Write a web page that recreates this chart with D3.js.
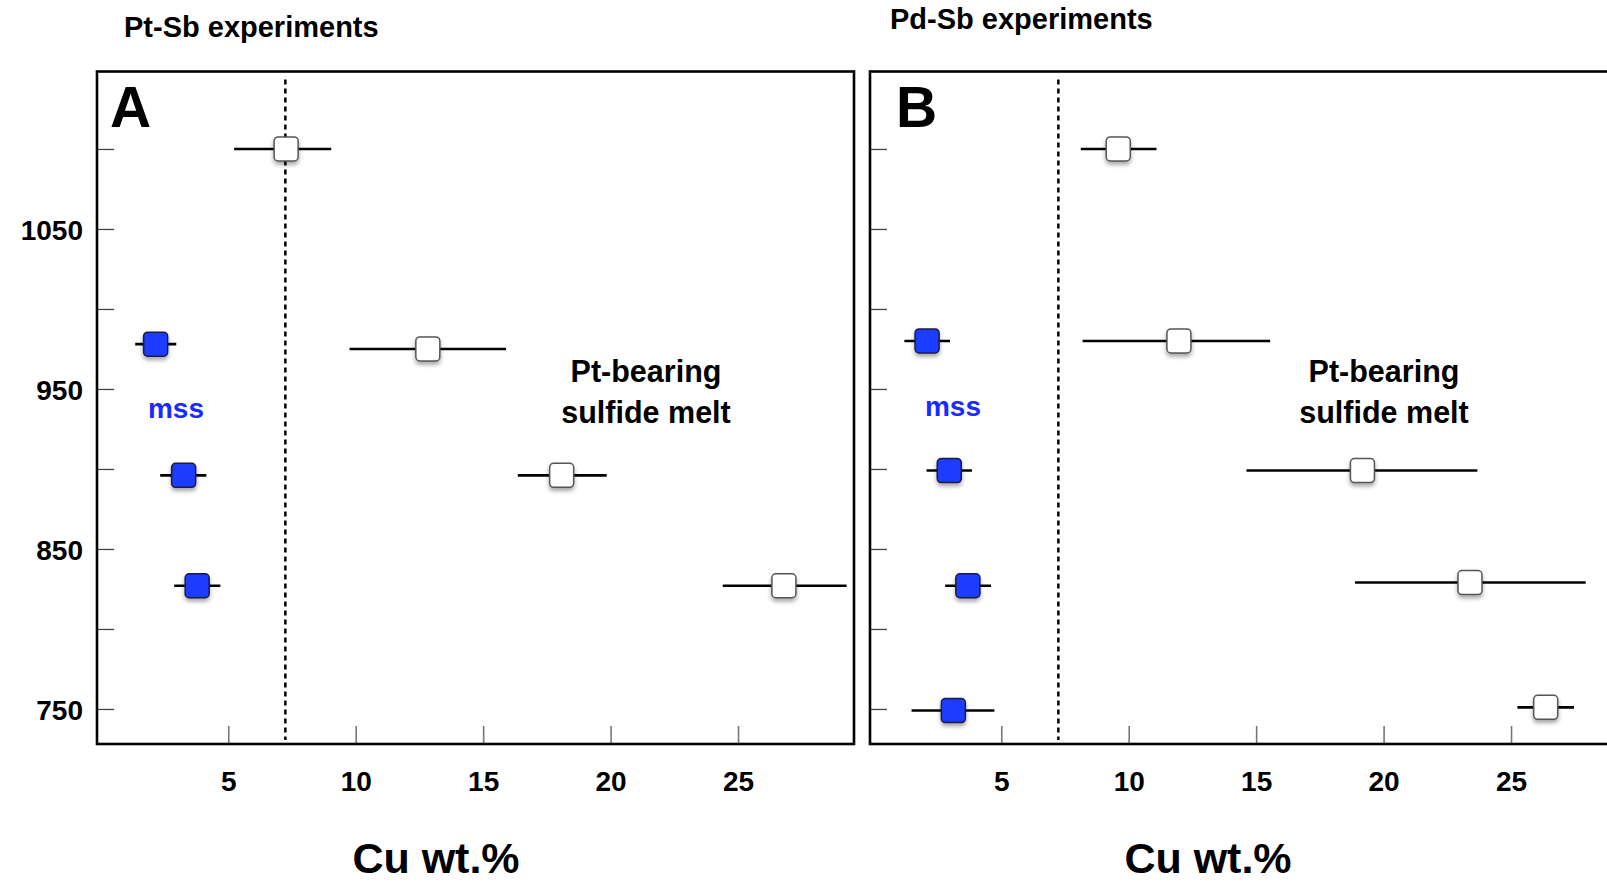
<!DOCTYPE html>
<html>
<head>
<meta charset="utf-8">
<script src="https://d3js.org/d3.v7.min.js"></script>
<style>
  body { margin: 0; background: #fff; }
  text { font-family: "Liberation Sans", Arial, Helvetica, sans-serif; }
</style>
</head>
<body>
<div id="chart"></div>
<script>
var width = 1607;
var height = 884;

// temperature axis (deg C)
var tempTicks = [750, 800, 850, 900, 950, 1000, 1050, 1100];
var tempLabels = [750, 850, 950, 1050];
// Cu axis (wt.%)
var cuTicks = [5, 10, 15, 20, 25];
var boundaryCu = 7.24;

// Pt-Sb experiments
var ptSbMelt = [
  { temp: 1100, cu: 7.27, lo: 5.23, hi: 9.04 },
  { temp: 975, cu: 12.83, lo: 9.76, hi: 15.9 },
  { temp: 896, cu: 18.08, lo: 16.36, hi: 19.85 },
  { temp: 827, cu: 26.8, lo: 24.4, hi: 29.26 }
];
var ptSbMss = [
  { temp: 978, cu: 2.15, lo: 1.35, hi: 2.96 },
  { temp: 896, cu: 3.25, lo: 2.33, hi: 4.14 },
  { temp: 827, cu: 3.78, lo: 2.88, hi: 4.69 }
];

// Pd-Sb experiments
var pdSbMelt = [
  { temp: 1100, cu: 9.59, lo: 8.12, hi: 11.09 },
  { temp: 980, cu: 11.97, lo: 8.19, hi: 15.55 },
  { temp: 899, cu: 19.17, lo: 14.62, hi: 23.68 },
  { temp: 829, cu: 23.39, lo: 18.88, hi: 27.93 },
  { temp: 751, cu: 26.36, lo: 25.25, hi: 27.47 }
];
var pdSbMss = [
  { temp: 980, cu: 2.09, lo: 1.2, hi: 2.99 },
  { temp: 899, cu: 2.96, lo: 2.07, hi: 3.85 },
  { temp: 827, cu: 3.69, lo: 2.8, hi: 4.6 },
  { temp: 749, cu: 3.12, lo: 1.48, hi: 4.73 }
];

var panels = [
  { letter: "A", letterX: 110, title: "Pt-Sb experiments", left: 97, titleX: 124, titleY: 37,
    melt: ptSbMelt, mss: ptSbMss, mssX: 176, mssY: 418, meltX: 646, axisX: 436, labels: true },
  { letter: "B", letterX: 896, title: "Pd-Sb experiments", left: 870, titleX: 890, titleY: 29,
    melt: pdSbMelt, mss: pdSbMss, mssX: 953, mssY: 416, meltX: 1384, axisX: 1208, labels: false }
];

var plotTop = 71.5;
var plotBottom = 744;
var plotWidth = 757;

var svg = d3.select("#chart").append("svg")
  .attr("width", width)
  .attr("height", height)

svg.append("rect")
  .attr("width", width)
  .attr("height", height)
  .attr("fill", "#fff")

var defs = svg.append("defs");
defs.append("filter")
  .attr("id", "shadow")
  .attr("x", "-50%").attr("y", "-50%")
  .attr("width", "200%").attr("height", "200%")
  .append("feDropShadow")
  .attr("dx", 0)
  .attr("dy", 3)
  .attr("stdDeviation", 2)
  .attr("flood-color", "#000")
  .attr("flood-opacity", 0.35)

var y = d3.scaleLinear().domain([728.1, 1148.1]).range([plotBottom, 72])

panels.forEach(function(p) {
  var x = d3.scaleLinear().domain([-0.15, 29.55]).range([p.left, p.left + plotWidth])
  var g = svg.append("g")

  // title
  g.append("text")
    .attr("x", p.titleX)
    .attr("y", p.titleY)
    .attr("font-size", "29px")
    .attr("font-weight", "bold")
    .text(p.title)

  // y ticks (inside)
  var yAxis = d3.axisLeft(y)
    .tickValues(tempTicks)
    .tickSize(-17)
    .tickPadding(14)
    .tickFormat(function(d) {
      return p.labels && tempLabels.indexOf(d) >= 0 ? d : ""
    })
  var ya = g.append("g")
    .attr("transform", "translate(" + p.left + ",0)")
    .call(yAxis)
  ya.select(".domain").remove()
  ya.selectAll("line").attr("stroke", "#444").attr("stroke-width", 1.3)
  ya.selectAll("text")
    .attr("font-size", "28px")
    .attr("font-weight", "bold")
    .attr("fill", "#000")
    .attr("dy", "0.36em")

  // x ticks (inside)
  var xAxis = d3.axisBottom(x)
    .tickValues(cuTicks)
    .tickSize(-18)
    .tickPadding(27)
  var xa = g.append("g")
    .attr("transform", "translate(0," + plotBottom + ")")
    .call(xAxis)
  xa.select(".domain").remove()
  xa.selectAll("line").attr("stroke", "#777").attr("stroke-width", 1.6)
  xa.selectAll("text")
    .attr("font-size", "28px")
    .attr("font-weight", "bold")
    .attr("fill", "#000")

  // frame
  g.append("rect")
    .attr("x", p.left)
    .attr("y", plotTop)
    .attr("width", plotWidth)
    .attr("height", plotBottom - plotTop)
    .attr("fill", "none")
    .attr("stroke", "#000")
    .attr("stroke-width", 2.6)

  // mss / melt boundary
  g.append("line")
    .attr("x1", x(boundaryCu))
    .attr("x2", x(boundaryCu))
    .attr("y1", plotTop + 8)
    .attr("y2", plotBottom - 4)
    .attr("stroke", "#000")
    .attr("stroke-width", 2.5)
    .attr("stroke-dasharray", "5,4")

  // panel letter
  g.append("text")
    .attr("x", p.letterX)
    .attr("y", 127)
    .attr("font-size", "57px")
    .attr("font-weight", "bold")
    .text(p.letter)

  // labels
  g.append("text")
    .attr("x", p.mssX)
    .attr("y", p.mssY)
    .attr("text-anchor", "middle")
    .attr("font-size", "28px")
    .attr("font-weight", "bold")
    .attr("fill", "#1a2bff")
    .text("mss")

  var melt = g.append("text")
    .attr("text-anchor", "middle")
    .attr("font-family", "Lato, 'Open Sans', sans-serif")
    .attr("font-size", "30.5px")
    .attr("font-weight", "bold")
  melt.append("tspan").attr("x", p.meltX).attr("y", 382).text("Pt-bearing")
  melt.append("tspan").attr("x", p.meltX).attr("y", 423).text("sulfide melt")

  g.append("text")
    .attr("x", p.axisX)
    .attr("y", 873)
    .attr("text-anchor", "middle")
    .attr("font-size", "43px")
    .attr("font-weight", "bold")
    .text("Cu wt.%")

  // error bars
  var all = p.melt.map(function(d) { return { d: d, fill: "#fff", stroke: "#555" } })
    .concat(p.mss.map(function(d) { return { d: d, fill: "#1e3cff", stroke: "#1a1a40" } }))

  g.selectAll(".err")
    .data(all)
    .enter()
    .append("line")
    .attr("class", "err")
    .attr("x1", function(e) { return x(e.d.lo) })
    .attr("x2", function(e) { return x(e.d.hi) })
    .attr("y1", function(e) { return y(e.d.temp) })
    .attr("y2", function(e) { return y(e.d.temp) })
    .attr("stroke", "#000")
    .attr("stroke-width", 2.6)

  g.selectAll(".pt")
    .data(all)
    .enter()
    .append("rect")
    .attr("class", "pt")
    .attr("x", function(e) { return x(e.d.cu) - 12 })
    .attr("y", function(e) { return y(e.d.temp) - 12 })
    .attr("width", 24)
    .attr("height", 24)
    .attr("rx", 4)
    .attr("fill", function(e) { return e.fill })
    .attr("stroke", function(e) { return e.stroke })
    .attr("stroke-width", 1.5)
    .attr("filter", "url(#shadow)")
})
</script>
</body>
</html>
